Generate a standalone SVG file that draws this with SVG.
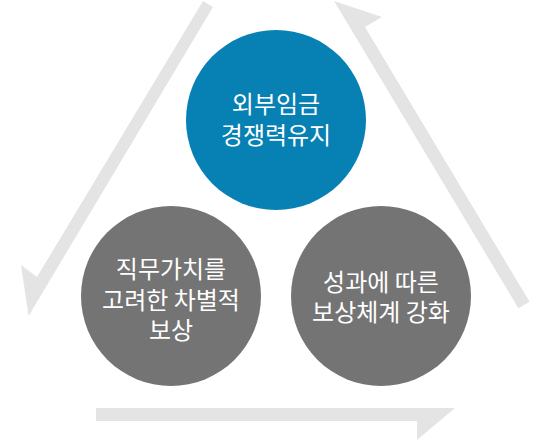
<svg xmlns="http://www.w3.org/2000/svg" width="551" height="440" viewBox="0 0 551 440">
<style>
.arrow{fill:#e4e4e4}
.blue{fill:#0780b3}
.gray{fill:#747474}
text{fill:#ffffff;font-family:"Noto Sans CJK KR","Noto Sans CJK SC",sans-serif;font-size:24px;text-anchor:middle}
</style>
<rect width="551" height="440" fill="#ffffff"/>
<g id="connectors">
<polygon class="arrow" points="203,1 213,7 28.6,316 21,265 37,277"/>
<polygon class="arrow" points="334,1 382,17 365,27 529.6,301.7 518.4,308.3"/>
<polygon class="arrow" points="96,408 455,408 417,440 417,421 96,421"/>
</g>
<g id="node-top">
<circle class="blue" cx="276" cy="120" r="90"/>
<text x="276" y="113"><tspan x="276" y="113">외부임금</tspan><tspan x="276" y="144">경쟁력유지</tspan></text>
</g>
<g id="node-left">
<circle class="gray" cx="171" cy="296" r="90"/>
<text x="171" y="278"><tspan x="171" y="278">직무가치를</tspan><tspan x="171" y="309">고려한 차별적</tspan><tspan x="171" y="339">보상</tspan></text>
</g>
<g id="node-right">
<circle class="gray" cx="381" cy="296" r="90"/>
<text x="381" y="291"><tspan x="381" y="291">성과에 따른</tspan><tspan x="381" y="321">보상체계 강화</tspan></text>
</g>
</svg>
